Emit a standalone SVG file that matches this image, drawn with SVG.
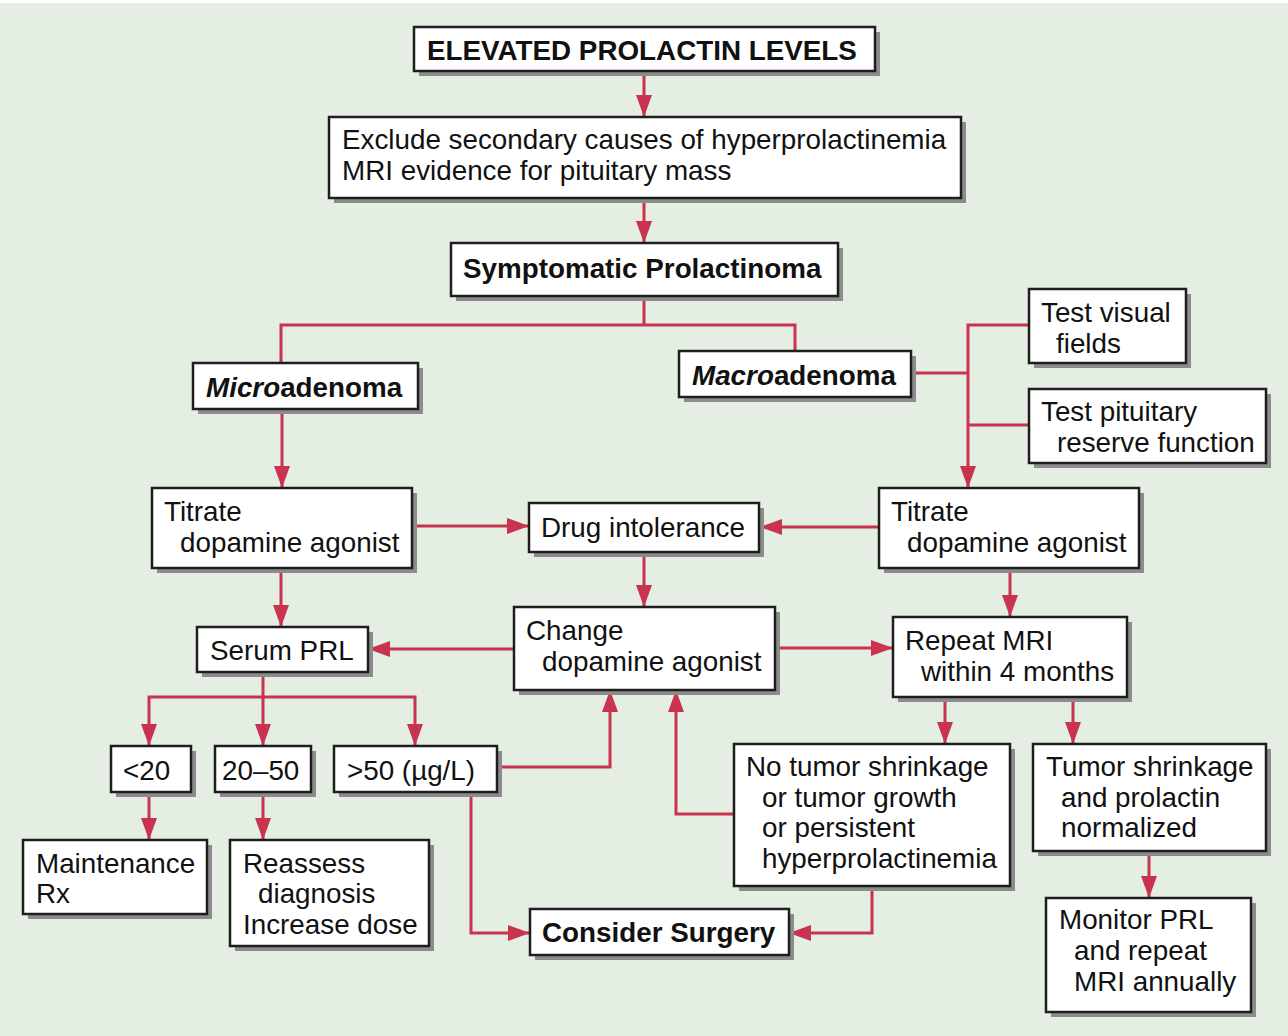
<svg xmlns="http://www.w3.org/2000/svg" width="1288" height="1036" viewBox="0 0 1288 1036">
<defs>
<style>
.bx{fill:#fff;stroke:#1e1e1e;stroke-width:2.5}
.sh{fill:#8c8c8c}
.t{font-family:"Liberation Sans",Arial,sans-serif;font-size:27.8px;fill:#111}
.b{font-weight:bold}
.c{fill:none;stroke:#c9334f;stroke-width:3}
</style>
<marker id="ah" markerUnits="userSpaceOnUse" markerWidth="22" markerHeight="16" refX="22" refY="8" orient="auto">
<path d="M0,0 L22,8 L0,16 z" fill="#c9334f"/>
</marker>
</defs>
<rect x="0" y="0" width="1288" height="1036" fill="#fff"/>
<rect x="0" y="3" width="1288" height="1033" fill="#e4eee3"/>

<g id="connectors">
<path class="c" d="M644,71 V117" marker-end="url(#ah)"/>
<path class="c" d="M644,198 V243" marker-end="url(#ah)"/>
<path class="c" d="M644,296 V325 M281,363 V325 H795 V351"/>
<path class="c" d="M911,373 H968 M1029,325 H968 V488" marker-end="url(#ah)"/>
<path class="c" d="M968,425 H1029"/>
<path class="c" d="M282,409 V488" marker-end="url(#ah)"/>
<path class="c" d="M412,526 H529" marker-end="url(#ah)"/>
<path class="c" d="M879,527 H760" marker-end="url(#ah)"/>
<path class="c" d="M644,552 V607" marker-end="url(#ah)"/>
<path class="c" d="M281,568 V627" marker-end="url(#ah)"/>
<path class="c" d="M1010,568 V617" marker-end="url(#ah)"/>
<path class="c" d="M514,649 H368" marker-end="url(#ah)"/>
<path class="c" d="M775,648 H893" marker-end="url(#ah)"/>
<path class="c" d="M263,672 V697 H149 V746" marker-end="url(#ah)"/>
<path class="c" d="M263,697 V746" marker-end="url(#ah)"/>
<path class="c" d="M263,697 H415 V746" marker-end="url(#ah)"/>
<path class="c" d="M149,792 V840" marker-end="url(#ah)"/>
<path class="c" d="M263,792 V840" marker-end="url(#ah)"/>
<path class="c" d="M497,767 H610 V690" marker-end="url(#ah)"/>
<path class="c" d="M471,792 V933 H530" marker-end="url(#ah)"/>
<path class="c" d="M734,814 H676 V690" marker-end="url(#ah)"/>
<path class="c" d="M872,886 V933 H789" marker-end="url(#ah)"/>
<path class="c" d="M945,697 V744" marker-end="url(#ah)"/>
<path class="c" d="M1073,697 V744" marker-end="url(#ah)"/>
<path class="c" d="M1149,851 V898" marker-end="url(#ah)"/>
</g>

<g id="n-elevated">
<rect class="sh" x="419" y="32" width="461" height="44"/>
<rect class="bx" x="414" y="27" width="461" height="44"/>
<text class="t b" x="427" y="60">ELEVATED PROLACTIN LEVELS</text>
</g>
<g id="n-exclude">
<rect class="sh" x="334" y="122" width="632" height="81"/>
<rect class="bx" x="329" y="117" width="632" height="81"/>
<text class="t" x="342" y="149">Exclude secondary causes of hyperprolactinemia</text>
<text class="t" x="342" y="180">MRI evidence for pituitary mass</text>
</g>
<g id="n-symptomatic">
<rect class="sh" x="456" y="248" width="387" height="53"/>
<rect class="bx" x="451" y="243" width="387" height="53"/>
<text class="t b" x="463" y="278">Symptomatic Prolactinoma</text>
</g>
<g id="n-micro">
<rect class="sh" x="198" y="368" width="225" height="46"/>
<rect class="bx" x="193" y="363" width="225" height="46"/>
<text class="t b" x="206" y="397"><tspan font-style="italic">Micro</tspan>adenoma</text>
</g>
<g id="n-macro">
<rect class="sh" x="684" y="356" width="232" height="46"/>
<rect class="bx" x="679" y="351" width="232" height="46"/>
<text class="t b" x="692" y="385"><tspan font-style="italic">Macro</tspan>adenoma</text>
</g>
<g id="n-visual">
<rect class="sh" x="1034" y="294" width="157" height="74"/>
<rect class="bx" x="1029" y="289" width="157" height="74"/>
<text class="t" x="1041" y="322">Test visual</text>
<text class="t" x="1056" y="353">fields</text>
</g>
<g id="n-pituitary">
<rect class="sh" x="1034" y="394" width="237" height="74"/>
<rect class="bx" x="1029" y="389" width="237" height="74"/>
<text class="t" x="1041" y="421">Test pituitary</text>
<text class="t" x="1057" y="452">reserve function</text>
</g>
<g id="n-titrate-l">
<rect class="sh" x="157" y="493" width="260" height="80"/>
<rect class="bx" x="152" y="488" width="260" height="80"/>
<text class="t" x="164" y="521">Titrate</text>
<text class="t" x="180" y="552">dopamine agonist</text>
</g>
<g id="n-drug">
<rect class="sh" x="534" y="508" width="230" height="49"/>
<rect class="bx" x="529" y="503" width="230" height="49"/>
<text class="t" x="541" y="537">Drug intolerance</text>
</g>
<g id="n-titrate-r">
<rect class="sh" x="884" y="493" width="260" height="80"/>
<rect class="bx" x="879" y="488" width="260" height="80"/>
<text class="t" x="891" y="521">Titrate</text>
<text class="t" x="907" y="552">dopamine agonist</text>
</g>
<g id="n-serum">
<rect class="sh" x="202" y="632" width="171" height="45"/>
<rect class="bx" x="197" y="627" width="171" height="45"/>
<text class="t" x="210" y="660">Serum PRL</text>
</g>
<g id="n-change">
<rect class="sh" x="519" y="612" width="261" height="83"/>
<rect class="bx" x="514" y="607" width="261" height="83"/>
<text class="t" x="526" y="640">Change</text>
<text class="t" x="542" y="671">dopamine agonist</text>
</g>
<g id="n-repeat">
<rect class="sh" x="898" y="622" width="234" height="80"/>
<rect class="bx" x="893" y="617" width="234" height="80"/>
<text class="t" x="905" y="650">Repeat MRI</text>
<text class="t" x="921" y="681">within 4 months</text>
</g>
<g id="n-lt20">
<rect class="sh" x="116" y="751" width="80" height="46"/>
<rect class="bx" x="111" y="746" width="80" height="46"/>
<text class="t" x="123" y="780">&lt;20</text>
</g>
<g id="n-20-50">
<rect class="sh" x="220" y="751" width="96" height="46"/>
<rect class="bx" x="215" y="746" width="96" height="46"/>
<text class="t" x="222" y="780">20–50</text>
</g>
<g id="n-gt50">
<rect class="sh" x="339" y="751" width="163" height="46"/>
<rect class="bx" x="334" y="746" width="163" height="46"/>
<text class="t" x="347" y="780">&gt;50 (µg/L)</text>
</g>
<g id="n-notumor">
<rect class="sh" x="739" y="749" width="276" height="142"/>
<rect class="bx" x="734" y="744" width="276" height="142"/>
<text class="t" x="746" y="776">No tumor shrinkage</text>
<text class="t" x="762" y="807">or tumor growth</text>
<text class="t" x="762" y="837">or persistent</text>
<text class="t" x="762" y="868">hyperprolactinemia</text>
</g>
<g id="n-shrink">
<rect class="sh" x="1038" y="749" width="233" height="107"/>
<rect class="bx" x="1033" y="744" width="233" height="107"/>
<text class="t" x="1046" y="776">Tumor shrinkage</text>
<text class="t" x="1061" y="807">and prolactin</text>
<text class="t" x="1061" y="837">normalized</text>
</g>
<g id="n-maint">
<rect class="sh" x="28" y="845" width="184" height="74"/>
<rect class="bx" x="23" y="840" width="184" height="74"/>
<text class="t" x="36" y="873">Maintenance</text>
<text class="t" x="36" y="903">Rx</text>
</g>
<g id="n-reassess">
<rect class="sh" x="235" y="845" width="199" height="106"/>
<rect class="bx" x="230" y="840" width="199" height="106"/>
<text class="t" x="243" y="873">Reassess</text>
<text class="t" x="258" y="903">diagnosis</text>
<text class="t" x="243" y="934">Increase dose</text>
</g>
<g id="n-surgery">
<rect class="sh" x="535" y="914" width="259" height="46"/>
<rect class="bx" x="530" y="909" width="259" height="46"/>
<text class="t b" x="542" y="942">Consider Surgery</text>
</g>
<g id="n-monitor">
<rect class="sh" x="1051" y="903" width="205" height="114"/>
<rect class="bx" x="1046" y="898" width="205" height="114"/>
<text class="t" x="1059" y="929">Monitor PRL</text>
<text class="t" x="1074" y="960">and repeat</text>
<text class="t" x="1074" y="991">MRI annually</text>
</g>
</svg>
